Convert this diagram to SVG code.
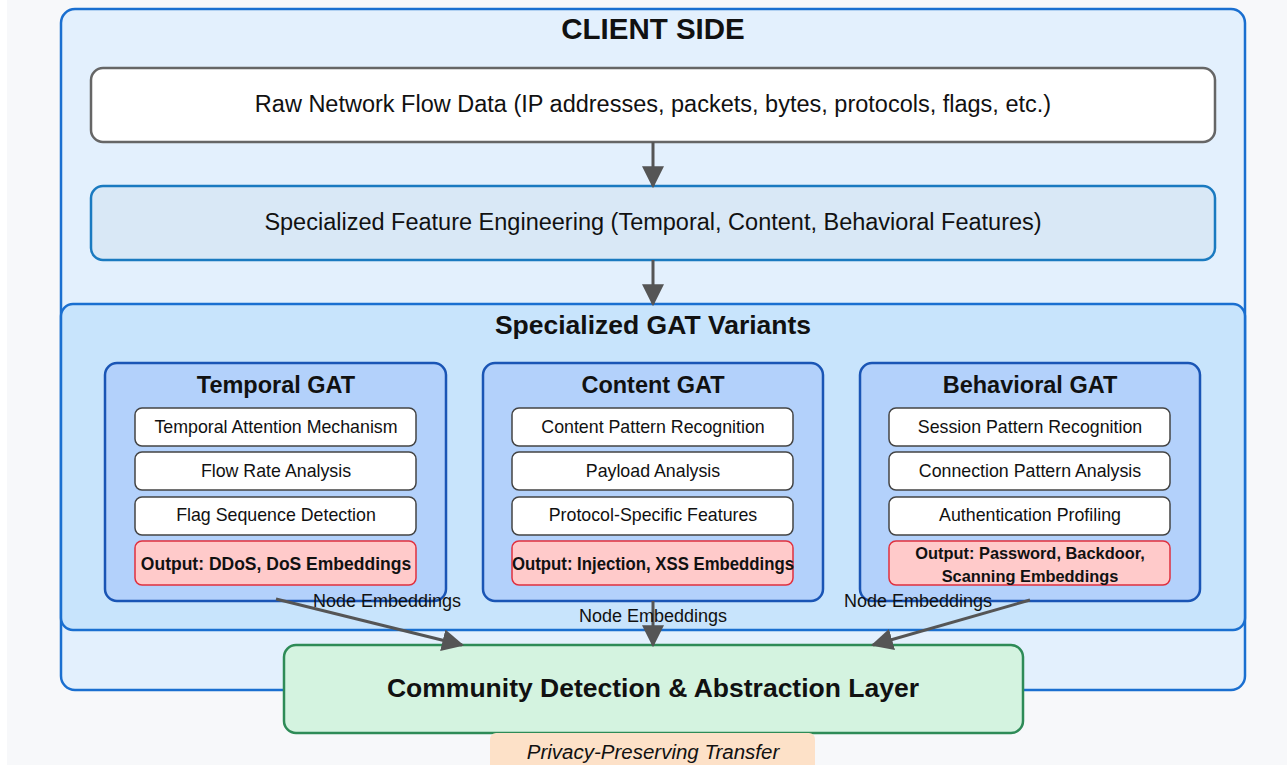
<svg xmlns="http://www.w3.org/2000/svg" width="1287" height="765" viewBox="0 0 1287 765">
<defs>
<marker id="ahb" viewBox="0 0 10 10" refX="9" refY="5" markerWidth="22" markerHeight="22" markerUnits="userSpaceOnUse" orient="auto">
<path d="M0,0 L10,5 L0,10 z" fill="#555"/>
</marker>
</defs>
<style>
text{font-family:"Liberation Sans",Arial,sans-serif;fill:#111;text-anchor:middle;dominant-baseline:central}
.title{font-weight:bold;font-size:29.5px}
.vt{font-weight:bold;font-size:26.5px}
.sub{font-weight:bold;font-size:23.5px}
.big{font-size:23.5px}
.item{font-size:17.8px}
.out{font-size:17.5px;font-weight:bold}
.out2{font-size:16.4px;font-weight:bold}
.lbl{font-size:18px}
.panel{fill:#b3d1fb;stroke:#1a55b5;stroke-width:2.5}
.box{fill:#fff;stroke:#444;stroke-width:1.5}
.obox{fill:#ffcaca;stroke:#e0303f;stroke-width:1.5}
.conn{stroke:#555;stroke-width:3;fill:none;marker-end:url(#ahb)}
</style>
<rect width="1287" height="765" fill="#fff"/>
<rect x="7" y="0" width="1280" height="765" fill="#f7f8fa"/>

<g id="client-side">
<rect x="61" y="9" width="1184" height="681" rx="14" fill="#e3f0fd" stroke="#1a6fd0" stroke-width="2.5"/>
<text class="title" x="653" y="28">CLIENT SIDE</text>
</g>

<g id="raw-data">
<rect x="91" y="68" width="1124" height="74" rx="12" fill="#fff" stroke="#666" stroke-width="2.5"/>
<text class="big" x="653" y="104">Raw Network Flow Data (IP addresses, packets, bytes, protocols, flags, etc.)</text>
</g>

<g id="feature-eng">
<rect x="91" y="186" width="1124" height="74" rx="12" fill="#d9e8f6" stroke="#1a7ac0" stroke-width="2.5"/>
<text class="big" x="653" y="222">Specialized Feature Engineering (Temporal, Content, Behavioral Features)</text>
</g>

<g id="gat-variants">
<rect x="61" y="304" width="1184" height="326" rx="12" fill="#c8e4fc" stroke="#1a6fd0" stroke-width="2.5"/>
<text class="vt" x="653" y="325">Specialized GAT Variants</text>
</g>

<g id="temporal-gat">
<rect class="panel" x="105" y="363" width="341" height="238" rx="12"/>
<text class="sub" x="276" y="385">Temporal GAT</text>
<rect class="box" x="135" y="408" width="281" height="38" rx="7"/>
<text class="item" x="276" y="427">Temporal Attention Mechanism</text>
<rect class="box" x="135" y="452" width="281" height="38" rx="7"/>
<text class="item" x="276" y="471">Flow Rate Analysis</text>
<rect class="box" x="135" y="497" width="281" height="38" rx="7"/>
<text class="item" x="276" y="515">Flag Sequence Detection</text>
<rect class="obox" x="135" y="541" width="281" height="44" rx="7"/>
<text class="out" x="276" y="564">Output: DDoS, DoS Embeddings</text>
</g>

<g id="content-gat">
<rect class="panel" x="483" y="363" width="340" height="238" rx="12"/>
<text class="sub" x="653" y="385">Content GAT</text>
<rect class="box" x="512" y="408" width="281" height="38" rx="7"/>
<text class="item" x="653" y="427">Content Pattern Recognition</text>
<rect class="box" x="512" y="452" width="281" height="38" rx="7"/>
<text class="item" x="653" y="471">Payload Analysis</text>
<rect class="box" x="512" y="497" width="281" height="38" rx="7"/>
<text class="item" x="653" y="515">Protocol-Specific Features</text>
<rect class="obox" x="512" y="541" width="281" height="44" rx="7"/>
<text class="out" x="653" y="564" textLength="282" lengthAdjust="spacingAndGlyphs">Output: Injection, XSS Embeddings</text>
</g>

<g id="behavioral-gat">
<rect class="panel" x="860" y="363" width="340" height="238" rx="12"/>
<text class="sub" x="1030" y="385">Behavioral GAT</text>
<rect class="box" x="889" y="408" width="281" height="38" rx="7"/>
<text class="item" x="1030" y="427">Session Pattern Recognition</text>
<rect class="box" x="889" y="452" width="281" height="38" rx="7"/>
<text class="item" x="1030" y="471">Connection Pattern Analysis</text>
<rect class="box" x="889" y="497" width="281" height="38" rx="7"/>
<text class="item" x="1030" y="515">Authentication Profiling</text>
<rect class="obox" x="889" y="541" width="281" height="44" rx="7"/>
<text class="out2" x="1030" y="553">Output: Password, Backdoor,</text>
<text class="out2" x="1030" y="576">Scanning Embeddings</text>
</g>

<g id="community">
<rect x="284" y="645" width="739" height="88" rx="12" fill="#d4f3e0" stroke="#2e8b57" stroke-width="2.5"/>
<text x="653" y="688" style="font-weight:bold;font-size:26.5px">Community Detection &amp; Abstraction Layer</text>
</g>

<g id="privacy">
<rect x="490" y="733" width="325" height="40" rx="6" fill="#fde1c8"/>
<text x="653" y="751" style="font-style:italic;font-size:20.5px">Privacy-Preserving Transfer</text>
</g>

<g id="connectors">
<line class="conn" x1="653" y1="142" x2="653" y2="186"/>
<line class="conn" x1="653" y1="260" x2="653" y2="304"/>
<line class="conn" x1="276" y1="599" x2="462" y2="645"/>
<line class="conn" x1="653" y1="601" x2="653" y2="645"/>
<line class="conn" x1="1030" y1="600" x2="873" y2="645"/>
<text class="lbl" x="387" y="601">Node Embeddings</text>
<text class="lbl" x="653" y="616">Node Embeddings</text>
<text class="lbl" x="918" y="601">Node Embeddings</text>
</g>
</svg>
